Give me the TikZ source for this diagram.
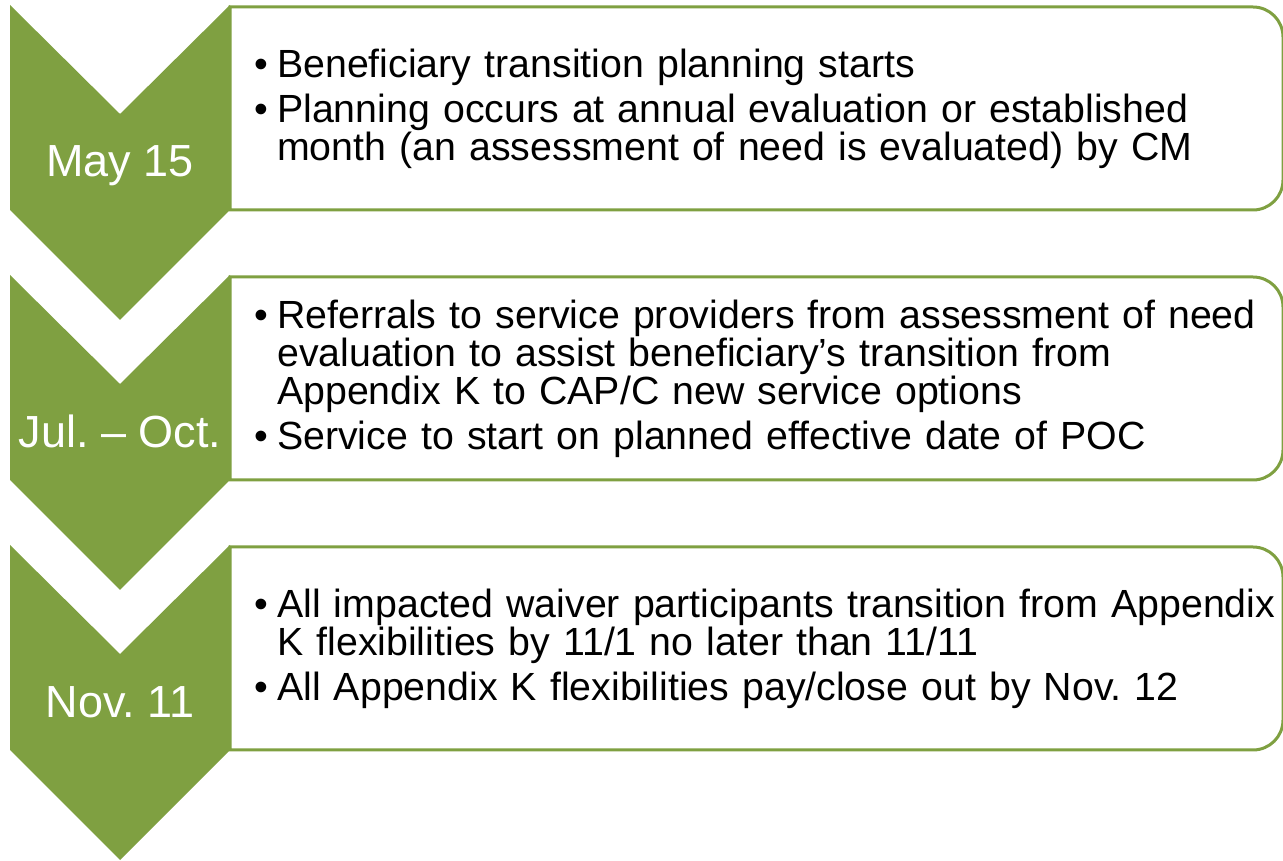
\documentclass[tikz,border=0pt]{standalone}
\usepackage{fontspec}
\setmainfont{Liberation Sans}
\frenchspacing
\definecolor{olive}{RGB}{127,160,65}
\newcommand{\bitem}[1]{\noindent\hangindent=23pt\hangafter=1\makebox[23pt][l]{•}#1\par}
\newcommand{\bgap}{\vspace{7pt}}
\tikzset{
  chev/.style={fill=olive, draw=none},
  stagebox/.style={draw=olive, line width=3pt, fill=white},
  datelabel/.style={text=white, font=\fontsize{45}{50}\selectfont, inner sep=0pt, anchor=base},
  bodytext/.style={text=black, anchor=west, inner sep=0pt, text width=1040pt, align=left, font=\fontsize{39.3}{38}\selectfont\frenchspacing},
}
\begin{document}
\begin{tikzpicture}[x=1pt,y=1pt]
\useasboundingbox (0,0) rectangle (1283,860);
% boxes
\draw[stagebox] (230,853) -- (1253,853) arc[start angle=90,end angle=0,radius=30] -- (1283,680) arc[start angle=0,end angle=-90,radius=30] -- (230,650) -- cycle;
\draw[stagebox] (230,583) -- (1253,583) arc[start angle=90,end angle=0,radius=30] -- (1283,410) arc[start angle=0,end angle=-90,radius=30] -- (230,380) -- cycle;
\draw[stagebox] (230,313) -- (1253,313) arc[start angle=90,end angle=0,radius=30] -- (1283,140) arc[start angle=0,end angle=-90,radius=30] -- (230,110) -- cycle;
% chevrons
\foreach \t in {855,585,315}{
  \fill[chev] (10,\t) -- (120,\t-109) -- (230,\t) -- (230,\t-205) -- (120,\t-315) -- (10,\t-205) -- cycle;
}
% dates
\node[datelabel] (d1) at (120,683) {May 15};
\node[datelabel] (d2) at (120,412) {Jul. – Oct.};
\node[datelabel] (d3) at (120,142) {Nov. 11};
% texts
\node[bodytext] (t1) at (254,751.5) {%
\bitem{Beneficiary transition planning starts}\bgap
\bitem{Planning occurs at annual evaluation or established\newline month (an assessment of need is evaluated) by CM}};
\node[bodytext] (t2) at (254,481.5) {%
\bitem{Referrals to service providers from assessment of need\newline evaluation to assist beneficiary’s transition from\newline Appendix K to CAP/C new service options}\bgap
\bitem{Service to start on planned effective date of POC}};
\node[bodytext] (t3) at (254,211.5) {%
\bitem{All impacted waiver participants transition from Appendix\newline K flexibilities by 11/1 no later than 11/11}\bgap
\bitem{All Appendix K flexibilities pay/close out by Nov. 12}};
\end{tikzpicture}
\end{document}
